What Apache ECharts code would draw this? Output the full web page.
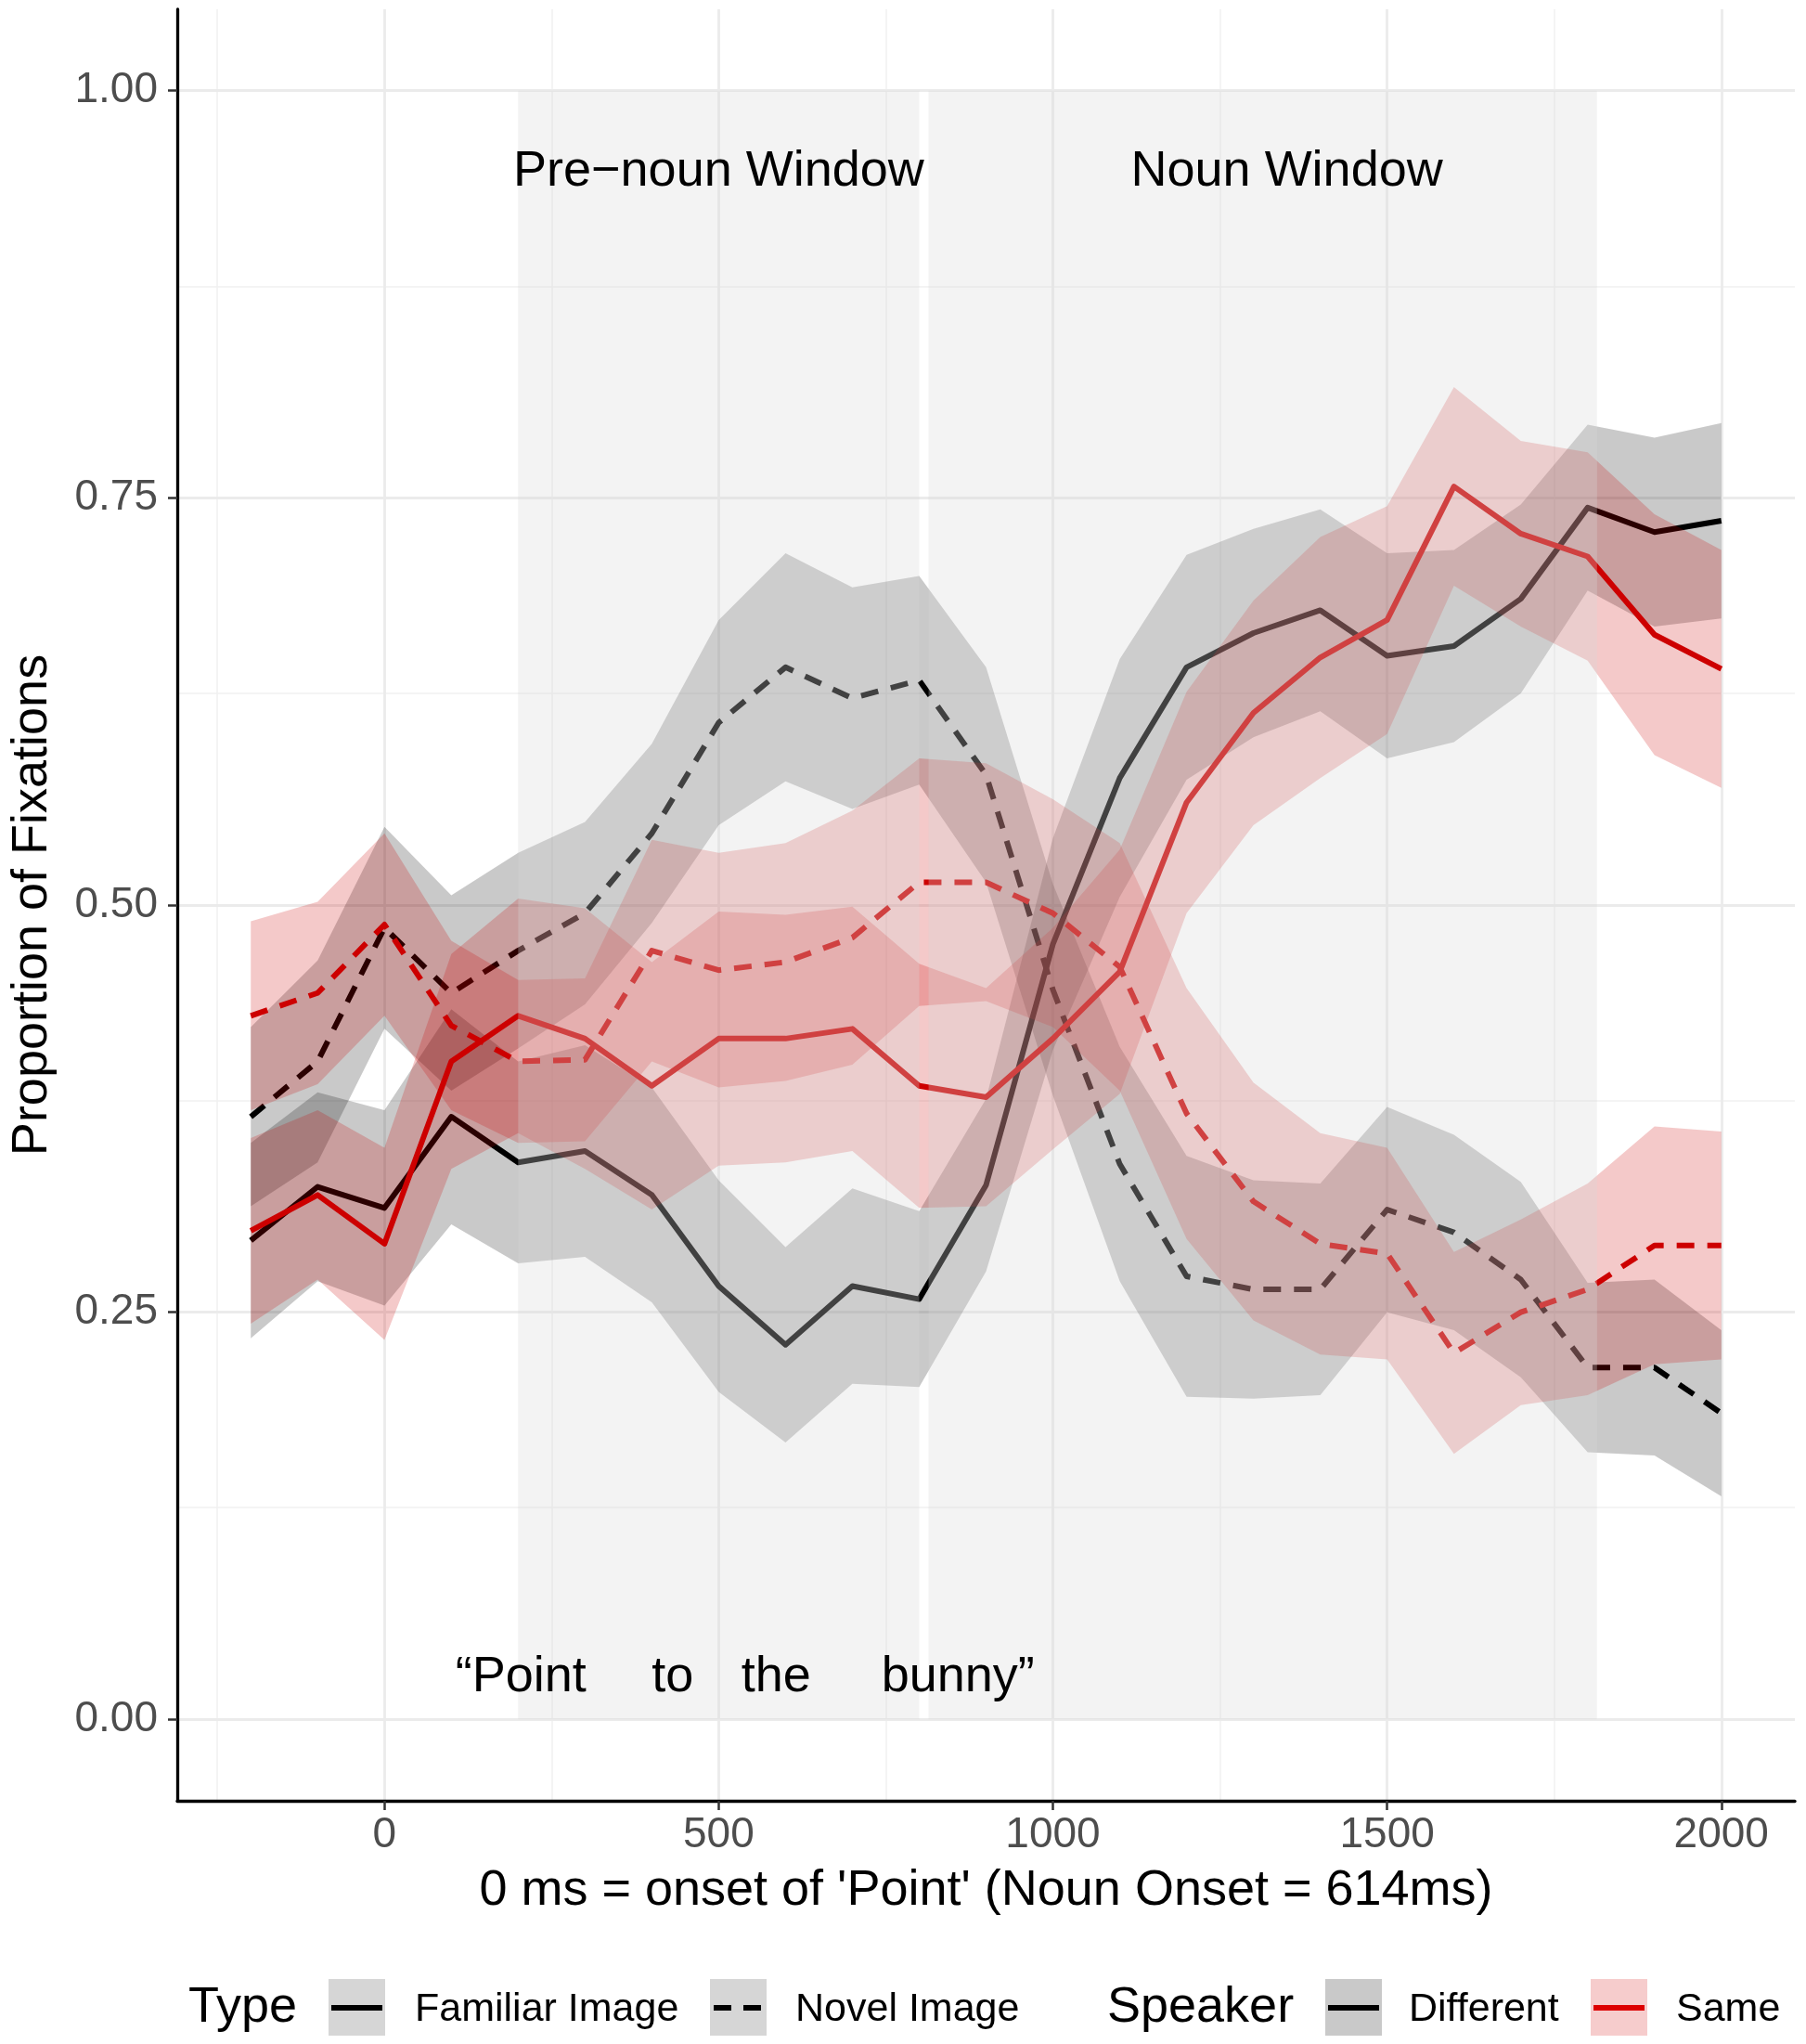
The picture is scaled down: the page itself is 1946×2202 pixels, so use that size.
<!DOCTYPE html>
<html>
<head>
<meta charset="utf-8">
<title>Proportion of Fixations</title>
<script src="https://cdn.jsdelivr.net/npm/echarts@6.0.0/dist/echarts.min.js"></script>
<style>
  html, body { margin: 0; padding: 0; background: #fff; }
  #main { width: 1946px; height: 2202px; }
</style>
</head>
<body>
<div id="main"></div>
<script>
// time bins (ms from onset of 'Point')
var timeBins = [-200, -100, 0, 100, 200, 300, 400, 500, 600, 700, 800, 900,
                1000, 1100, 1200, 1300, 1400, 1500, 1600, 1700, 1800, 1900, 2000];

// Speaker = Different (grey ribbons, black lines)
var familiarDifferent = [0.294, 0.327, 0.314, 0.370, 0.342, 0.349, 0.322, 0.266, 0.230, 0.266, 0.258, 0.328,
                         0.476, 0.578, 0.646, 0.667, 0.681, 0.653, 0.659, 0.688, 0.744, 0.729, 0.736];
var familiarDifferentSe = [0.060, 0.058, 0.060, 0.066, 0.062, 0.065, 0.066, 0.065, 0.060, 0.060, 0.054, 0.053,
                           0.065, 0.073, 0.069, 0.064, 0.062, 0.063, 0.059, 0.058, 0.051, 0.058, 0.060];
var novelDifferent = [0.370, 0.404, 0.486, 0.446, 0.472, 0.495, 0.544, 0.612, 0.646, 0.627, 0.638, 0.580,
                      0.448, 0.341, 0.272, 0.264, 0.264, 0.313, 0.299, 0.270, 0.216, 0.216, 0.188];
var novelDifferentSe = [0.055, 0.062, 0.062, 0.060, 0.060, 0.056, 0.055, 0.063, 0.070, 0.068, 0.064, 0.066,
                        0.065, 0.072, 0.074, 0.067, 0.065, 0.063, 0.060, 0.060, 0.052, 0.054, 0.051];

// Speaker = Same (pink ribbons, red lines)
var familiarSame = [0.300, 0.322, 0.292, 0.404, 0.432, 0.418, 0.389, 0.418, 0.418, 0.424, 0.389, 0.382,
                    0.418, 0.459, 0.563, 0.618, 0.652, 0.675, 0.757, 0.728, 0.714, 0.666, 0.645];
var familiarSameSe = [0.057, 0.052, 0.059, 0.066, 0.072, 0.080, 0.076, 0.078, 0.076, 0.075, 0.075, 0.067,
                      0.068, 0.075, 0.068, 0.069, 0.074, 0.070, 0.061, 0.057, 0.064, 0.074, 0.073];
var novelSame = [0.432, 0.446, 0.488, 0.426, 0.404, 0.405, 0.472, 0.460, 0.465, 0.480, 0.514, 0.514,
                 0.495, 0.462, 0.372, 0.318, 0.292, 0.286, 0.225, 0.250, 0.264, 0.291, 0.291];
var novelSameSe = [0.058, 0.056, 0.056, 0.052, 0.050, 0.050, 0.068, 0.072, 0.073, 0.078, 0.076, 0.073,
                   0.070, 0.076, 0.077, 0.073, 0.068, 0.065, 0.062, 0.057, 0.065, 0.073, 0.070];

// analysis windows: [label, start, end, label position]
var windows = [['Pre\u2212noun Window', 200, 800, 500], ['Noun Window', 814, 1814, 1350]];
// the spoken sentence, word and its position in ms
var spokenWords = [['\u201CPoint', 204], ['to', 431], ['the', 586], ['bunny\u201D', 858]];

var xTicks = [0, 500, 1000, 1500, 2000];
var xMinor = [-250, 250, 750, 1250, 1750];
var yTicks = [0, 0.25, 0.5, 0.75, 1];
var yMinor = [0.125, 0.375, 0.625, 0.875];

var FONT = '"Liberation Sans", Arial, Helvetica, sans-serif';
var BLACK = '#000000';
var RED = '#cd0000';
var GREY_FILL = 'rgba(0,0,0,0.21)';
var RED_FILL = 'rgba(205,0,0,0.21)';

var myChart = echarts.init(document.getElementById('main'));

function pairs(ys) {
    return timeBins.map(function (t, i) { return [t, ys[i]]; });
}

// ribbon (mean +/- se) drawn as one polygon through the axis scales
function band(name, mean, se, color, z) {
    var rows = timeBins.map(function (t, i) { return [t, mean[i] - se[i], mean[i] + se[i]]; });
    return {
        name: name, type: 'custom', z: z, silent: true, clip: true,
        data: rows,
        encode: { x: 0, y: [1, 2] },
        renderItem: function (params, api) {
            if (params.dataIndex !== 0) return;
            var pts = [];
            var i;
            for (i = 0; i < rows.length; i++) pts.push(api.coord([rows[i][0], rows[i][1]]));
            for (i = rows.length - 1; i >= 0; i--) pts.push(api.coord([rows[i][0], rows[i][2]]));
            return { type: 'polygon', shape: { points: pts }, style: { fill: color, stroke: null } };
        }
    };
}

function curve(name, mean, color, dashed, z) {
    return {
        name: name, type: 'line', z: z, silent: true, symbol: 'none',
        lineStyle: { color: color, width: 6, type: dashed ? [19, 14] : 'solid', cap: 'butt', join: 'round' },
        data: pairs(mean)
    };
}

function gridLines(xs, ys, color, width) {
    return {
        type: 'line', data: [], z: 0, silent: true,
        markLine: {
            silent: true, z: 0, animation: false, symbol: ['none', 'none'],
            label: { show: false }, emphasis: { disabled: true },
            lineStyle: { color: color, width: width, type: 'solid' },
            data: xs.map(function (v) { return { xAxis: v }; })
                .concat(ys.map(function (v) { return { yAxis: v }; }))
        }
    };
}

var series = [];
series.push(gridLines(xMinor, yMinor, '#f0f0f0', 1.5));
series.push(gridLines(xTicks, yTicks, '#ebebeb', 2.8));
series.push(band('famDiff', familiarDifferent, familiarDifferentSe, GREY_FILL, 2));
series.push(band('novDiff', novelDifferent, novelDifferentSe, GREY_FILL, 2));
series.push(curve('Familiar Image / Different', familiarDifferent, BLACK, false, 3));
series.push(curve('Novel Image / Different', novelDifferent, BLACK, true, 3));
series.push(band('famSame', familiarSame, familiarSameSe, RED_FILL, 4));
series.push(band('novSame', novelSame, novelSameSe, RED_FILL, 4));
series.push(curve('Familiar Image / Same', familiarSame, RED, false, 5));
series.push(curve('Novel Image / Same', novelSame, RED, true, 5));
// shaded analysis windows lie over the data
series.push({
    type: 'line', data: [], z: 8, silent: true,
    markArea: {
        silent: true, z: 8, animation: false, emphasis: { disabled: true },
        itemStyle: { color: 'rgba(215,215,215,0.3)' },
        data: windows.map(function (w) {
            return [{ xAxis: w[1], yAxis: 0 }, { xAxis: w[2], yAxis: 1 }];
        })
    }
});

option = {
    backgroundColor: '#ffffff',
    animation: false,
    grid: { left: 182, right: 12, top: 10, bottom: 262, containLabel: false },
    xAxis: {
        type: 'value', min: -310, max: 2110,
        name: "0 ms = onset of 'Point' (Noun Onset = 614ms)",
        nameLocation: 'middle', nameGap: 70,
        nameTextStyle: { fontFamily: FONT, fontSize: 54, color: '#000' },
        axisLine: { show: true, onZero: false, lineStyle: { color: '#000', width: 3.3 } },
        axisTick: { show: true, length: 10, customValues: xTicks, lineStyle: { color: '#333', width: 2.5 } },
        axisLabel: {
            customValues: xTicks, margin: 14, fontFamily: FONT, fontSize: 46, color: '#4d4d4d',
            formatter: function (v) { return String(v); }
        },
        splitLine: { show: false }
    },
    yAxis: {
        type: 'value', min: -0.05, max: 1.05,
        name: 'Proportion of Fixations',
        nameLocation: 'middle', nameRotate: 90, nameGap: 129,
        nameTextStyle: { fontFamily: FONT, fontSize: 54, color: '#000' },
        axisLine: { show: true, onZero: false, lineStyle: { color: '#000', width: 3.3 } },
        axisTick: { show: true, length: 10, customValues: yTicks, lineStyle: { color: '#333', width: 2.5 } },
        axisLabel: {
            customValues: yTicks, margin: 21, fontFamily: FONT, fontSize: 46, color: '#4d4d4d',
            formatter: function (v) { return v.toFixed(2); }
        },
        splitLine: { show: false }
    },
    series: series
};

myChart.setOption(option);

// annotations and legend
var graphics = [];
windows.forEach(function (w) {
    var p = myChart.convertToPixel({ gridIndex: 0 }, [w[3], 0.95]);
    graphics.push({
        type: 'text', z: 100, silent: true, x: p[0], y: p[1],
        style: { text: w[0], fill: '#000', font: '54px ' + FONT, align: 'center', verticalAlign: 'middle' }
    });
});
spokenWords.forEach(function (w) {
    var p = myChart.convertToPixel({ gridIndex: 0 }, [w[1], 0.026]);
    graphics.push({
        type: 'text', z: 100, silent: true, x: p[0], y: p[1],
        style: { text: w[0], fill: '#000', font: '54px ' + FONT, align: 'center', verticalAlign: 'middle' }
    });
});

var legendMid = 2163;
function legendText(x, text, size) {
    graphics.push({
        type: 'text', z: 100, silent: true, x: x, y: legendMid + (size > 50 ? 0 : 2),
        style: { text: text, fill: '#000', font: size + 'px ' + FONT, align: 'left', verticalAlign: 'middle' }
    });
}
function legendKey(x, fill, stroke, dashed) {
    graphics.push({
        type: 'rect', z: 100, silent: true,
        shape: { x: x, y: legendMid - 31, width: 61, height: 61 }, style: { fill: fill }
    });
    graphics.push({
        type: 'line', z: 101, silent: true,
        shape: dashed ? { x1: x + 4, y1: legendMid, x2: x + 55, y2: legendMid }
                      : { x1: x + 3, y1: legendMid, x2: x + 58, y2: legendMid },
        style: { stroke: stroke, lineWidth: 6, lineDash: dashed ? [19, 13] : null, lineCap: 'butt' }
    });
}
legendText(203, 'Type', 54);
legendKey(354, '#d6d6d6', BLACK, false);
legendText(447, 'Familiar Image', 43);
legendKey(765, '#d6d6d6', BLACK, true);
legendText(857, 'Novel Image', 43);
legendText(1193, 'Speaker', 54);
legendKey(1428, '#c9c9c9', BLACK, false);
legendText(1518, 'Different', 43);
legendKey(1714, '#f6cccc', '#dd0000', false);
legendText(1806, 'Same', 43);

myChart.setOption({ graphic: { elements: graphics } });
</script>
</body>
</html>
